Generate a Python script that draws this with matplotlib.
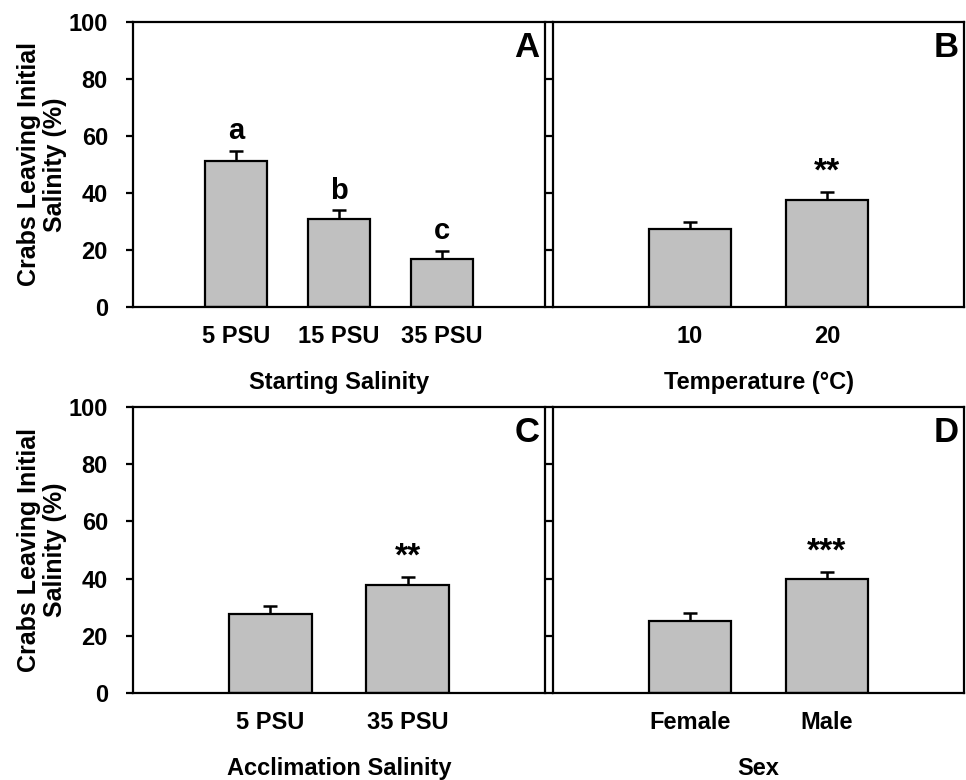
import matplotlib.pyplot as plt

plt.rcParams['font.family'] = ['Liberation Sans', 'DejaVu Sans']
plt.rcParams['font.weight'] = 'bold'

# panel A - starting salinity
salinity_labels = ["5 PSU", "15 PSU", "35 PSU"]
salinity_means = [51.3, 30.8, 16.8]
salinity_se = [3.5, 3.2, 3.0]
salinity_marks = ["a", "b", "c"]

# panel B - temperature
temp_labels = ["10", "20"]
temp_means = [27.3, 37.7]
temp_se = [2.6, 2.6]
temp_marks = ["", "**"]

# panel C - acclimation salinity
accl_labels = ["5 PSU", "35 PSU"]
accl_means = [27.6, 37.9]
accl_se = [2.7, 2.7]
accl_marks = ["", "**"]

# panel D - sex
sex_labels = ["Female", "Male"]
sex_means = [25.3, 39.8]
sex_se = [2.6, 2.6]
sex_marks = ["", "***"]

ylabel = "Crabs Leaving Initial\nSalinity (%)"

fig = plt.figure(figsize=(9.66, 7.8), dpi=100)

W, H = 966, 780


def add_axes(left, top, right, bottom):
    return fig.add_axes([left / W, 1 - bottom / H, (right - left) / W, (bottom - top) / H])


def draw_panel(ax, labels, means, se, marks, letter, xlabel, show_ylab):
    x = list(range(1, len(labels) + 1))
    ax.bar(x, means, width=0.6, color="#c0c0c0", edgecolor="black", linewidth=1.6, zorder=2)
    # errorbar behind the bars so only the upper half shows
    ax.errorbar(x, means, yerr=[[0] * len(se), se], fmt="none", ecolor="black",
                elinewidth=1.8, capsize=5, capthick=1.8, zorder=1)
    for xi, m, s, mk in zip(x, means, se, marks):
        if mk:
            if mk.startswith("*"):
                ax.text(xi, m + s + 4.0, mk, ha="center", va="baseline", fontsize=24,
                        fontweight="bold")
            else:
                ax.text(xi, m + s + 4, mk, ha="center", va="baseline", fontsize=21,
                        fontweight="bold")
    ax.set_xlim(0, len(labels) + 1)
    ax.set_ylim(0, 100)
    ax.set_yticks([0, 20, 40, 60, 80, 100])
    ax.set_xticks(x)
    ax.set_xticklabels(labels, fontsize=17, fontweight="bold")
    ax.tick_params(axis="x", length=0, pad=13)
    ax.tick_params(axis="y", direction="out", length=5, width=1.6, pad=13, labelsize=17)
    if show_ylab:
        ax.set_ylabel(ylabel, fontsize=18, fontweight="bold", linespacing=1.1)
        ax.yaxis.set_label_coords(-0.16, 0.5)
    else:
        ax.set_yticklabels([])
    ax.set_xlabel(xlabel, fontsize=17, fontweight="bold")
    ax.xaxis.set_label_coords(0.5, -0.225)
    for sp in ax.spines.values():
        sp.set_linewidth(1.6)
    ax.text(0.987, 0.877, letter, transform=ax.transAxes, ha="right", va="baseline",
            fontsize=25, fontweight="bold")


axA = add_axes(133, 22, 545, 307)
axB = add_axes(553, 22, 964, 307)
axC = add_axes(133, 407, 545, 693)
axD = add_axes(553, 407, 964, 693)

draw_panel(axA, salinity_labels, salinity_means, salinity_se, salinity_marks, "A", "Starting Salinity", True)
draw_panel(axB, temp_labels, temp_means, temp_se, temp_marks, "B", "Temperature (°C)", False)
draw_panel(axC, accl_labels, accl_means, accl_se, accl_marks, "C", "Acclimation Salinity", True)
draw_panel(axD, sex_labels, sex_means, sex_se, sex_marks, "D", "Sex", False)

fig.savefig("out.png", dpi=100)
